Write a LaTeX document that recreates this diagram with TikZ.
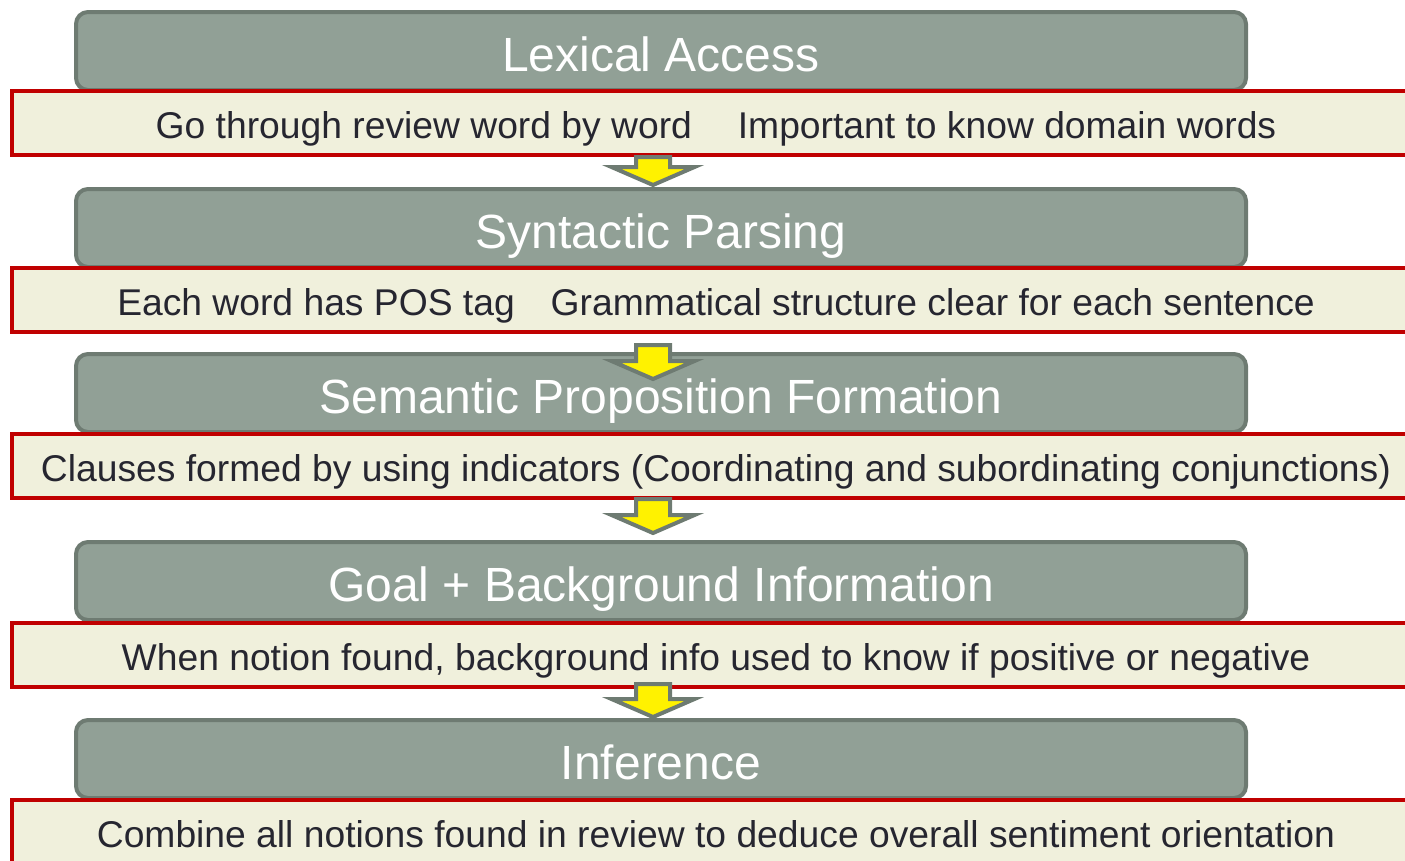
\documentclass[tikz,border=0pt]{standalone}
\usepackage{fontspec}
\setmainfont{Liberation Sans}
\definecolor{stagefill}{RGB}{145,160,150}
\definecolor{stageline}{RGB}{110,123,114}
\definecolor{notefill}{RGB}{240,240,220}
\definecolor{noteline}{RGB}{192,0,0}
\definecolor{notetext}{RGB}{38,38,48}

\begin{document}
\begin{tikzpicture}[x=1pt,y=-1pt]
\tikzstyle{stage}=[rectangle,rounded corners=12pt,
  line width=4pt,draw=stageline,fill=stagefill,text=white,
  minimum width=1170pt,
  minimum height=78pt,
  text height=40.5pt,text depth=0pt,
  font=\fontsize{48}{57}\selectfont
]

\tikzstyle{note}=[rectangle,
  line width=4pt,draw=noteline,fill=notefill,text=notetext,
  minimum width=1408pt,
  minimum height=64pt,
  text height=30.5pt,text depth=0pt,
  font=\fontsize{37.25}{44}\selectfont
]

\tikzstyle{flow}=[line width=4pt,draw=stageline,fill=yellow]

\useasboundingbox (0,0) rectangle (1405,860);

\node[stage] (LA)  at (661,51)  {Lexical Access};
\node[stage] (SP)  at (661,228) {Syntactic Parsing};
\node[stage] (SPF) at (661,393) {Semantic Proposition Formation};
\node[stage] (GB)  at (661,581) {Goal + Background Information};
\node[stage] (IN)  at (661,759) {Inference};

\node[note] (LAn)  at (716,123) {Go through review word by word\hspace{46pt}Important to know domain words};
\node[note] (SPn)  at (716,300) {Each word has POS tag\hspace{36pt}Grammatical structure clear for each sentence};
\node[note] (SPFn) at (716,466) {Clauses formed by using indicators (Coordinating and subordinating conjunctions)};
\node[note] (GBn)  at (716,655) {When notion found, background info used to know if positive or negative};
\node[note] (INn)  at (716,832) {Combine all notions found in review to deduce overall sentiment orientation};

% block arrows: tip y / length
\foreach \t/\h in {185/28,379/34,533/34,717/33}
  \draw[flow] (653,\t) -- (611.5,{\t-18}) -- (636,{\t-18}) -- (636,{\t-\h})
    -- (670,{\t-\h}) -- (670,{\t-18}) -- (694.5,{\t-18}) -- cycle;
\end{tikzpicture}
\end{document}
